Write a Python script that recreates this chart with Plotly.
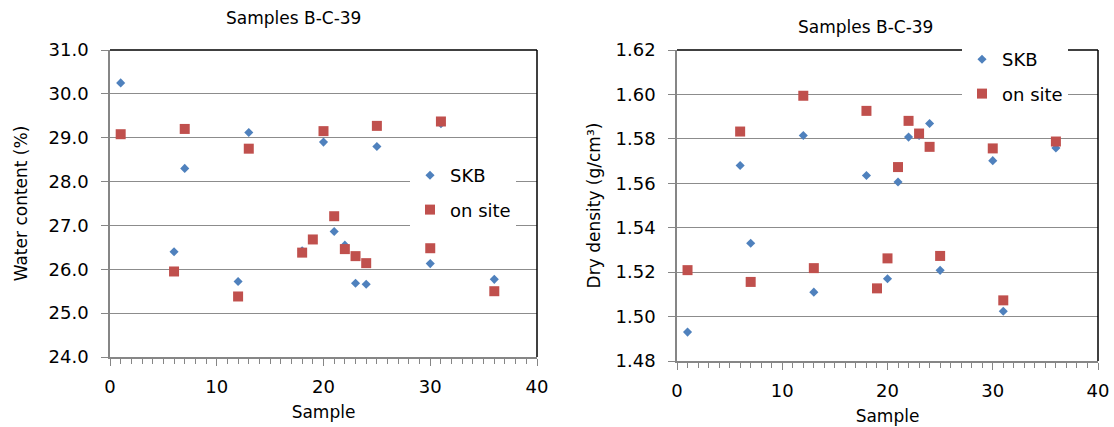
import plotly.graph_objects as go

# ---------------- data ----------------
sample_skb_w = [1, 6, 7, 12, 13, 18, 20, 21, 22, 23, 24, 25, 30, 31, 36]
water_skb = [30.25, 26.40, 28.30, 25.72, 29.12, 26.42, 28.90, 26.86, 26.55, 25.68, 25.66, 28.80, 26.13, 29.32, 25.77]

sample_site_w = [1, 6, 7, 12, 13, 18, 19, 20, 21, 22, 23, 24, 25, 30, 31, 36]
water_site = [29.08, 25.95, 29.20, 25.38, 28.75, 26.38, 26.68, 29.15, 27.21, 26.46, 26.30, 26.14, 29.27, 26.48, 29.37, 25.50]

sample_skb_d = [1, 6, 7, 12, 13, 18, 20, 21, 22, 23, 24, 25, 30, 31, 36]
dens_skb = [1.493, 1.568, 1.533, 1.5815, 1.511, 1.5635, 1.517, 1.5606, 1.5808, 1.5815, 1.5869, 1.5208, 1.5702, 1.5024, 1.5759]

sample_site_d = [1, 6, 7, 12, 13, 18, 19, 20, 21, 22, 23, 24, 25, 30, 31, 36]
dens_site = [1.5209, 1.5833, 1.5156, 1.5994, 1.5218, 1.5926, 1.5127, 1.5262, 1.5673, 1.5881, 1.5824, 1.5764, 1.5273, 1.5757, 1.5073, 1.5788]

title_text = "Samples B-C-39"
series_names = ["SKB", "on site"]

# ---------------- style ----------------
BLUE = "#4F81BD"
RED = "#C0504D"
FONT = "DejaVu Sans"
GRID = "#8C8C8C"
AXIS = "#868686"

W, H = 1114, 427
L_dom_x = [110 / W, 537 / W]
L_dom_y = [1 - 357 / H, 1 - 50 / H]
R_dom_x = [677 / W, 1098 / W]
R_dom_y = [1 - 361 / H, 1 - 50 / H]

fig = go.Figure()

fig.add_trace(go.Scatter(x=sample_skb_w, y=water_skb, mode="markers", name=series_names[0],
                         marker=dict(symbol="diamond", size=7, color=BLUE),
                         xaxis="x", yaxis="y", legend="legend", legendgroup="a"))
fig.add_trace(go.Scatter(x=sample_site_w, y=water_site, mode="markers", name=series_names[1],
                         marker=dict(symbol="square", size=10, color=RED),
                         xaxis="x", yaxis="y", legend="legend", legendgroup="b"))
fig.add_trace(go.Scatter(x=sample_skb_d, y=dens_skb, mode="markers", name=series_names[0],
                         marker=dict(symbol="diamond", size=7, color=BLUE),
                         xaxis="x2", yaxis="y2", legend="legend2", legendgroup="c"))
fig.add_trace(go.Scatter(x=sample_site_d, y=dens_site, mode="markers", name=series_names[1],
                         marker=dict(symbol="square", size=10, color=RED),
                         xaxis="x2", yaxis="y2", legend="legend2", legendgroup="d"))

xcommon = dict(range=[0, 40], dtick=10, tick0=0, showgrid=False, zeroline=False, automargin=False,
               showline=True, linecolor=AXIS, linewidth=1.5,
               ticks="outside", ticklen=7, tickcolor=AXIS, ticklabelstandoff=6,
               minor=dict(dtick=1, ticks="outside", ticklen=5, tickcolor=AXIS),
               tickfont=dict(family=FONT, size=18, color="black"),
               title=dict(text="Sample", font=dict(family=FONT, size=17, color="black"), standoff=10))

ycommon = dict(showgrid=True, gridcolor=GRID, gridwidth=1, zeroline=False, automargin=False,
               showline=True, linecolor=AXIS, linewidth=1.5,
               ticks="outside", ticklen=7, tickcolor=AXIS, ticklabelstandoff=9,
               tickfont=dict(family=FONT, size=18, color="black"))

fig.update_layout(
    template="none",
    width=W, height=H,
    margin=dict(l=0, r=0, t=0, b=0, pad=0, autoexpand=False),
    paper_bgcolor="white", plot_bgcolor="white",
    font=dict(family=FONT, color="black"),
    xaxis=dict(domain=L_dom_x, anchor="y", **xcommon),
    yaxis=dict(domain=L_dom_y, anchor="x", range=[24, 31], dtick=1, tickformat=".1f",
               title=dict(text="Water content (%)", font=dict(family=FONT, size=17, color="black"), standoff=17),
               **ycommon),
    xaxis2=dict(domain=R_dom_x, anchor="y2", **xcommon),
    yaxis2=dict(domain=R_dom_y, anchor="x2", range=[1.48, 1.62], dtick=0.02, tickformat=".2f",
                title=dict(text="Dry density (g/cm³)", font=dict(family=FONT, size=17, color="black"), standoff=11),
                **ycommon),
    legend=dict(x=410 / W, y=1 - 157 / H, xanchor="left", yanchor="top",
                bgcolor="white", borderwidth=0, font=dict(family=FONT, size=18, color="black"),
                traceorder="grouped", tracegroupgap=8),
    legend2=dict(x=962 / W, y=1 - 41 / H, xanchor="left", yanchor="top",
                 bgcolor="white", borderwidth=0, font=dict(family=FONT, size=18, color="black"),
                 traceorder="grouped", tracegroupgap=8),
    annotations=[
        dict(text=title_text, x=293 / W, y=1 - 18 / H, xref="paper", yref="paper",
             xanchor="center", yanchor="middle", showarrow=False, font=dict(family=FONT, size=17, color="black")),
        dict(text=title_text, x=865 / W, y=1 - 27 / H, xref="paper", yref="paper",
             xanchor="center", yanchor="middle", showarrow=False, font=dict(family=FONT, size=17, color="black")),
    ],
    shapes=[
        dict(type="line", xref="x domain", yref="y domain", x0=0, x1=1, y0=1, y1=1, line=dict(color="black", width=1.5)),
        dict(type="line", xref="x domain", yref="y domain", x0=1, x1=1, y0=0, y1=1, line=dict(color="black", width=1.5)),
        dict(type="line", xref="x2 domain", yref="y2 domain", x0=0, x1=1, y0=1, y1=1, line=dict(color="black", width=1.5)),
        dict(type="line", xref="x2 domain", yref="y2 domain", x0=1, x1=1, y0=0, y1=1, line=dict(color="black", width=1.5)),
    ],
    showlegend=True,
    hovermode="closest",
)

fig.write_html("out.html")
